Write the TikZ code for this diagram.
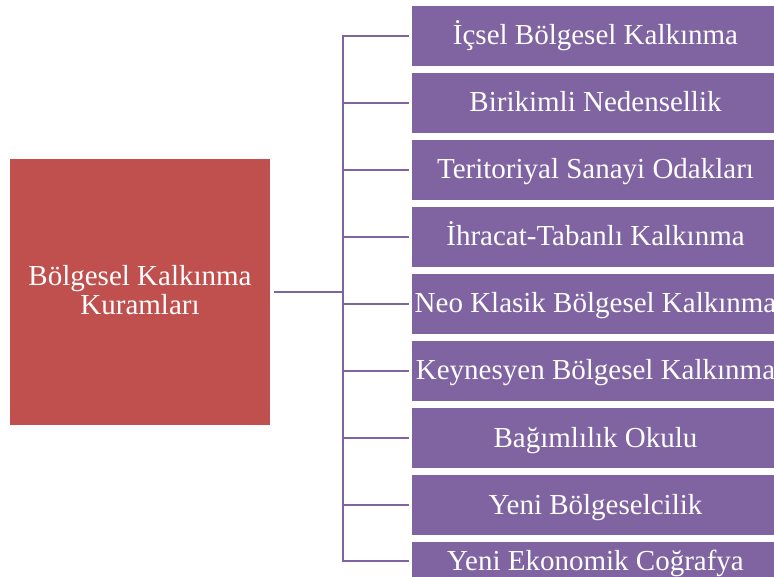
\documentclass[tikz,border=0pt]{standalone}
\usepackage{fontspec}
\setmainfont{Liberation Serif}
\definecolor{offred}{HTML}{C0504D}
\definecolor{offpurple}{HTML}{8064A2}
\tikzset{
  rootbox/.style={fill=offred, draw=none, inner sep=0pt, minimum width=260pt, minimum height=266pt,
    text=white, font=\fontsize{29}{29}\selectfont, text height=18pt, text depth=30pt},
  leafbox/.style={fill=offpurple, draw=none, inner sep=0pt, minimum width=367pt, minimum height=60pt,
    text=white, font=\fontsize{29}{29}\selectfont, text height=18pt, text depth=0pt},
  conn/.style={draw=offpurple, line width=2.8pt}
}
\begin{document}
\begin{tikzpicture}[x=1pt, y=-1pt]
\useasboundingbox (0,0) rectangle (774,577);
\clip (0,0) rectangle (774,577);
\node[rootbox] (root) at (140,292) {\begin{tabular}[t]{@{}c@{}}Bölgesel Kalkınma\\Kuramları\end{tabular}};
\node[leafbox] (b1) at (595.5,36) {İçsel Bölgesel Kalkınma};
\node[leafbox] (b2) at (595.5,103) {Birikimli Nedensellik};
\node[leafbox] (b3) at (595.5,170) {Teritoriyal Sanayi Odakları};
\node[leafbox] (b4) at (595.5,237) {İhracat-Tabanlı Kalkınma};
\node[leafbox] (b5) at (595.5,304) {Neo Klasik Bölgesel Kalkınma};
\node[leafbox] (b6) at (595.5,371) {Keynesyen Bölgesel Kalkınma};
\node[leafbox] (b7) at (595.5,438) {Bağımlılık Okulu};
\node[leafbox] (b8) at (595.5,505) {Yeni Bölgeselcilik};
\node[leafbox, minimum height=38pt] (b9) at (595.5,561) {Yeni Ekonomik Coğrafya};
\coordinate (tx) at (343,0);
\draw[conn, shorten <=4pt] (root.east) -- (root.east -| tx);
\draw[conn, shorten >=3pt, shorten <=3pt] (b1.west) -- (b1.west -| tx) -- (b9.west -| tx) -- (b9.west);
\foreach \b in {b2,b3,b4,b5,b6,b7,b8}
  \draw[conn, shorten >=3pt] (\b.west -| tx) -- (\b.west);
\end{tikzpicture}
\end{document}
